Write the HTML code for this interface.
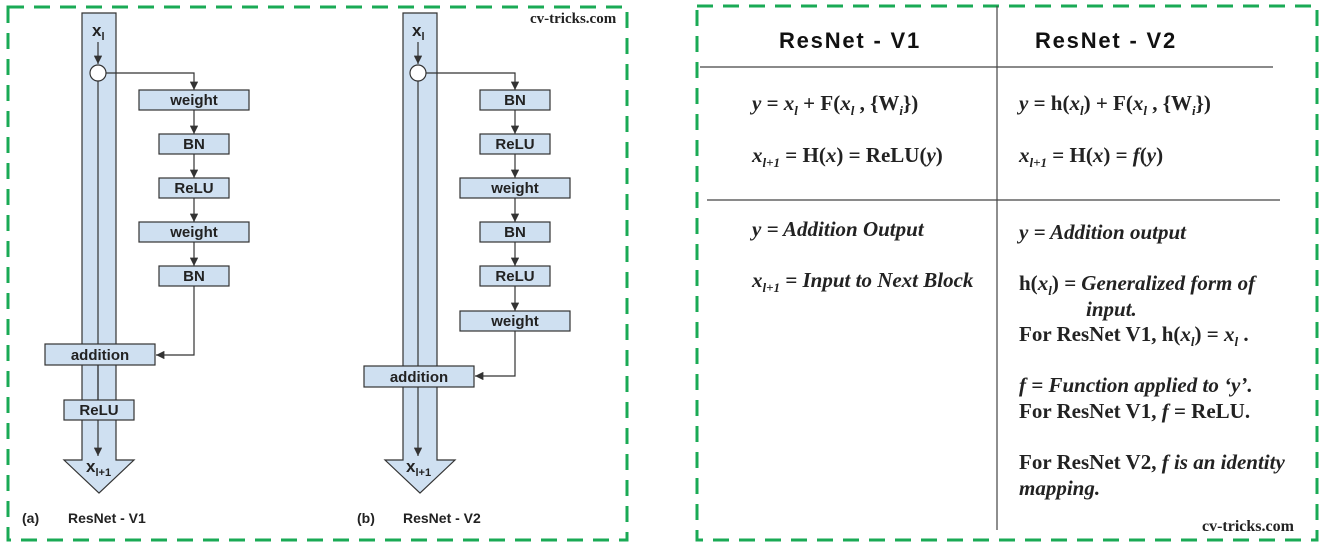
<!DOCTYPE html>
<html><head><meta charset="utf-8"><style>
html,body{margin:0;padding:0;background:#fff;}
svg{display:block;}
.s{font-family:"Liberation Sans",sans-serif;font-weight:bold;font-size:15px;fill:#222;}
.r{font-family:"Liberation Serif",serif;font-weight:bold;font-size:21px;fill:#222;}
.i{font-style:italic;}
.h{font-family:"Liberation Sans",sans-serif;font-weight:bold;font-size:22px;fill:#111;letter-spacing:1.8px;}
.b{fill:#cfe0f1;stroke:#333;stroke-width:1.2;}
.l{stroke:#333;stroke-width:1.2;fill:none;}
</style></head><body>
<svg width="1321" height="544" viewBox="0 0 1321 544" xmlns="http://www.w3.org/2000/svg">
<defs>
<marker id="ar" viewBox="0 0 10 10" refX="10" refY="5" markerWidth="7" markerHeight="7" orient="auto-start-reverse"><path d="M0,0 L10,5 L0,10 Z" fill="#333"/></marker></defs>
<rect x="8" y="7" width="619" height="533" fill="none" stroke="#1aaa55" stroke-width="3" stroke-dasharray="16,10"/>
<rect x="697" y="6" width="620" height="534" fill="none" stroke="#1aaa55" stroke-width="3" stroke-dasharray="16,10"/>
<text x="530" y="23" class="r" style="font-size:15px">cv-tricks.com</text>
<!-- (a) -->
<path class="b" d="M82,13 H116 V460 H134 L99,493 L64,460 H82 Z"/>
<text x="92" y="36" class="s" style="font-size:17px">x<tspan font-size="11" dy="4">l</tspan></text>
<line class="l" x1="98" y1="42" x2="98" y2="64" marker-end="url(#ar)"/>
<circle cx="98" cy="73" r="8" fill="#fff" stroke="#333" stroke-width="1.2"/>
<line class="l" x1="98" y1="81" x2="98" y2="456" marker-end="url(#ar)"/>
<path class="l" d="M106,73 H194 V90" marker-end="url(#ar)"/>
<rect class="b" x="139" y="90" width="110" height="20"/><text x="194" y="105" class="s" text-anchor="middle">weight</text>
<line class="l" x1="194" y1="110" x2="194" y2="134" marker-end="url(#ar)"/>
<rect class="b" x="159" y="134" width="70" height="20"/><text x="194" y="149" class="s" text-anchor="middle">BN</text>
<line class="l" x1="194" y1="154" x2="194" y2="178" marker-end="url(#ar)"/>
<rect class="b" x="159" y="178" width="70" height="20"/><text x="194" y="193" class="s" text-anchor="middle">ReLU</text>
<line class="l" x1="194" y1="198" x2="194" y2="222" marker-end="url(#ar)"/>
<rect class="b" x="139" y="222" width="110" height="20"/><text x="194" y="237" class="s" text-anchor="middle">weight</text>
<line class="l" x1="194" y1="242" x2="194" y2="266" marker-end="url(#ar)"/>
<rect class="b" x="159" y="266" width="70" height="20"/><text x="194" y="281" class="s" text-anchor="middle">BN</text>
<path class="l" d="M194,286 V355 H156" marker-end="url(#ar)"/>
<rect class="b" x="45" y="344" width="110" height="21"/><text x="100" y="360" class="s" text-anchor="middle">addition</text>
<rect class="b" x="64" y="400" width="70" height="20"/><text x="99" y="415" class="s" text-anchor="middle">ReLU</text>
<line class="l" x1="98" y1="365" x2="98" y2="400"/>
<text x="86" y="472" class="s" style="font-size:17px">x<tspan font-size="11" dy="4">l+1</tspan></text>
<text x="22" y="523" class="s" style="font-size:14px">(a)</text><text x="68" y="523" class="s" style="font-size:14px">ResNet - V1</text>
<!-- (b) -->
<path class="b" d="M403,13 H437 V460 H455 L420,493 L385,460 H403 Z"/>
<text x="412" y="36" class="s" style="font-size:17px">x<tspan font-size="11" dy="4">l</tspan></text>
<line class="l" x1="418" y1="42" x2="418" y2="64" marker-end="url(#ar)"/>
<circle cx="418" cy="73" r="8" fill="#fff" stroke="#333" stroke-width="1.2"/>
<line class="l" x1="418" y1="81" x2="418" y2="456" marker-end="url(#ar)"/>
<path class="l" d="M426,73 H515 V90" marker-end="url(#ar)"/>
<rect class="b" x="480" y="90" width="70" height="20"/><text x="515" y="105" class="s" text-anchor="middle">BN</text>
<line class="l" x1="515" y1="110" x2="515" y2="134" marker-end="url(#ar)"/>
<rect class="b" x="480" y="134" width="70" height="20"/><text x="515" y="149" class="s" text-anchor="middle">ReLU</text>
<line class="l" x1="515" y1="154" x2="515" y2="178" marker-end="url(#ar)"/>
<rect class="b" x="460" y="178" width="110" height="20"/><text x="515" y="193" class="s" text-anchor="middle">weight</text>
<line class="l" x1="515" y1="198" x2="515" y2="222" marker-end="url(#ar)"/>
<rect class="b" x="480" y="222" width="70" height="20"/><text x="515" y="237" class="s" text-anchor="middle">BN</text>
<line class="l" x1="515" y1="242" x2="515" y2="266" marker-end="url(#ar)"/>
<rect class="b" x="480" y="266" width="70" height="20"/><text x="515" y="281" class="s" text-anchor="middle">ReLU</text>
<line class="l" x1="515" y1="286" x2="515" y2="311" marker-end="url(#ar)"/>
<rect class="b" x="460" y="311" width="110" height="20"/><text x="515" y="326" class="s" text-anchor="middle">weight</text>
<path class="l" d="M515,331 V376 H475" marker-end="url(#ar)"/>
<rect class="b" x="364" y="366" width="110" height="21"/><text x="419" y="382" class="s" text-anchor="middle">addition</text>
<text x="406" y="472" class="s" style="font-size:17px">x<tspan font-size="11" dy="4">l+1</tspan></text>
<text x="357" y="523" class="s" style="font-size:14px">(b)</text><text x="403" y="523" class="s" style="font-size:14px">ResNet - V2</text>
<!-- right table -->
<text x="850" y="48" class="h" text-anchor="middle">ResNet - V1</text>
<text x="1106" y="48" class="h" text-anchor="middle">ResNet - V2</text>
<line x1="997" y1="6" x2="997" y2="530" stroke="#444" stroke-width="1.2"/>
<line x1="700" y1="67" x2="1273" y2="67" stroke="#444" stroke-width="1.2"/>
<line x1="707" y1="200" x2="1280" y2="200" stroke="#444" stroke-width="1.2"/>
<text x="752" y="110" class="r"><tspan class="i">y</tspan> = <tspan class="i">x</tspan><tspan font-size="13" dy="5" class="i">l</tspan><tspan dy="-5"> + F(</tspan><tspan class="i">x</tspan><tspan font-size="13" dy="5" class="i">l</tspan><tspan dy="-5"> , {W</tspan><tspan font-size="13" dy="5" class="i">i</tspan><tspan dy="-5">})</tspan></text>
<text x="752" y="162" class="r"><tspan class="i">x</tspan><tspan font-size="13" dy="5" class="i">l+1</tspan><tspan dy="-5"> = H(</tspan><tspan class="i">x</tspan>) = ReLU(<tspan class="i">y</tspan>)</text>
<text x="1019" y="110" class="r"><tspan class="i">y</tspan> = h(<tspan class="i">x</tspan><tspan font-size="13" dy="5" class="i">l</tspan><tspan dy="-5">) + F(</tspan><tspan class="i">x</tspan><tspan font-size="13" dy="5" class="i">l</tspan><tspan dy="-5"> , {W</tspan><tspan font-size="13" dy="5" class="i">i</tspan><tspan dy="-5">})</tspan></text>
<text x="1019" y="162" class="r"><tspan class="i">x</tspan><tspan font-size="13" dy="5" class="i">l+1</tspan><tspan dy="-5"> = H(</tspan><tspan class="i">x</tspan>) = <tspan class="i">f</tspan>(<tspan class="i">y</tspan>)</text>
<text x="752" y="236" class="r i"><tspan>y</tspan> = Addition Output</text>
<text x="752" y="287" class="r i">x<tspan font-size="13" dy="5">l+1</tspan><tspan dy="-5"> = Input to Next Block</tspan></text>
<text x="1019" y="239" class="r i">y = Addition output</text>
<text x="1019" y="290" class="r i"><tspan font-style="normal">h(</tspan>x<tspan font-size="13" dy="5">l</tspan><tspan dy="-5" font-style="normal">)</tspan> = Generalized form of</text>
<text x="1086" y="316" class="r i">input.</text>
<text x="1019" y="341" class="r">For ResNet V1, h(<tspan class="i">x</tspan><tspan font-size="13" dy="5" class="i">l</tspan><tspan dy="-5">) = </tspan><tspan class="i">x</tspan><tspan font-size="13" dy="5" class="i">l</tspan><tspan dy="-5"> .</tspan></text>
<text x="1019" y="392" class="r i">f = Function applied to ‘y’.</text>
<text x="1019" y="418" class="r">For ResNet V1, <tspan class="i">f</tspan> = ReLU.</text>
<text x="1019" y="469" class="r">For ResNet V2, <tspan class="i">f is an identity</tspan></text>
<text x="1019" y="495" class="r i">mapping.</text>
<text x="1202" y="531" class="r" style="font-size:16px">cv-tricks.com</text>
</svg>
</body></html>
